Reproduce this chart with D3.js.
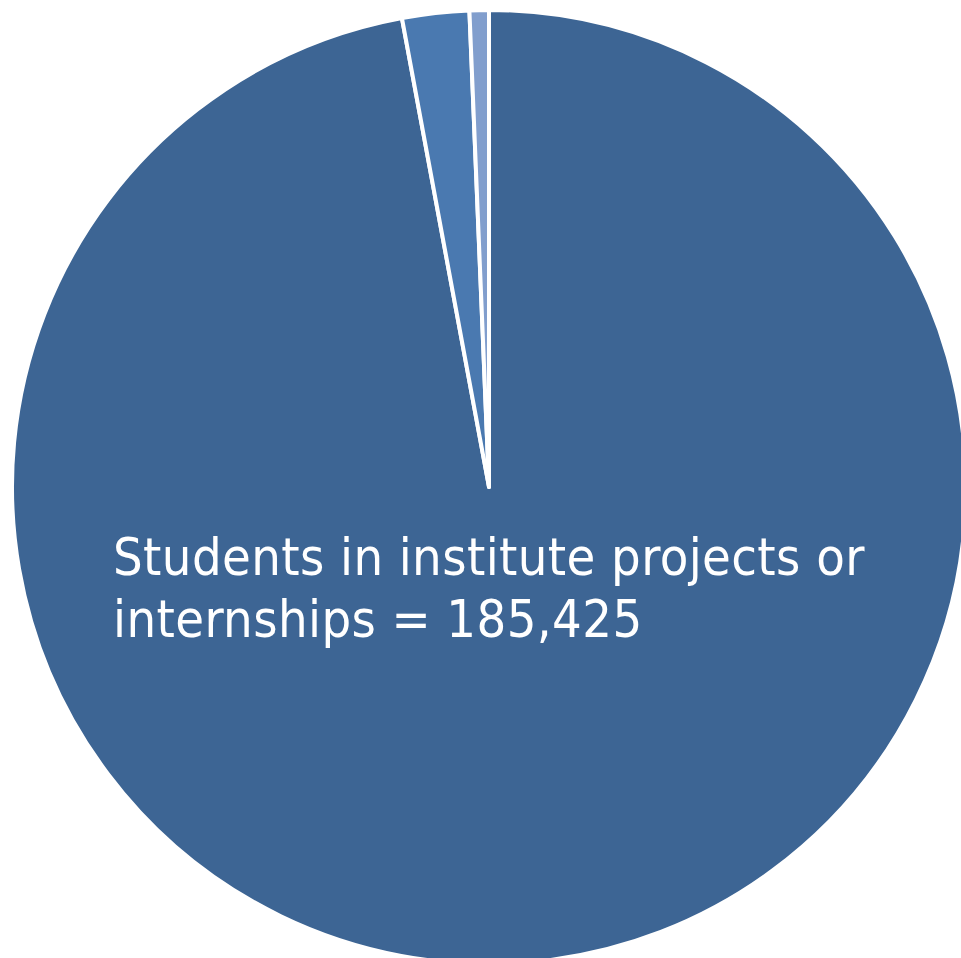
<!DOCTYPE html>
<html>
<head>
<meta charset="utf-8">
<script src="https://cdn.jsdelivr.net/npm/d3@7"></script>
<style>
  html, body { margin: 0; padding: 0; background: #fff; }
  svg { display: block; }
</style>
</head>
<body>
<script>
// slice data, clockwise from 12 o'clock
const categories = ["Students in institute projects or internships", "Other group A", "Other group B"];
const values = [185425, 4330, 1250];
const colors = ["#3d6594", "#4a79b0", "#819ecd"];
const labelLines = ["Students in institute projects or", "internships = 185,425"];

const width = 961;
const height = 958;
const cx = 489, cy = 487, radius = 477;

const svg = d3.select("body").append("svg")
    .attr("width", width)
    .attr("height", height);

const g = svg.append("g")
    .attr("transform", "translate(" + cx + "," + cy + ")");

const pie = d3.pie().sort(null).value(function(d) { return d; });
const arc = d3.arc().innerRadius(0).outerRadius(radius);

// Draw slices
g.selectAll("path")
    .data(pie(values))
    .enter()
    .append("path")
    .attr("d", arc)
    .style("fill", function(d, i) { return colors[i]; })
    .style("stroke", "#fff")
    .style("stroke-width", 4)
    .style("stroke-linejoin", "round");

// Label for the big slice
const label = svg.append("text")
    .attr("x", 113)
    .attr("y", 575)
    .style("font-family", "'DejaVu Sans Condensed', sans-serif")
    .style("font-size", "52px")
    .style("letter-spacing", "0.4px")
    .style("fill", "#fff");

label.selectAll("tspan")
    .data(labelLines)
    .enter()
    .append("tspan")
    .attr("x", 113)
    .attr("dy", function(d, i) { return i === 0 ? 0 : 62; })
    .text(function(d) { return d; });
</script>
</body>
</html>
